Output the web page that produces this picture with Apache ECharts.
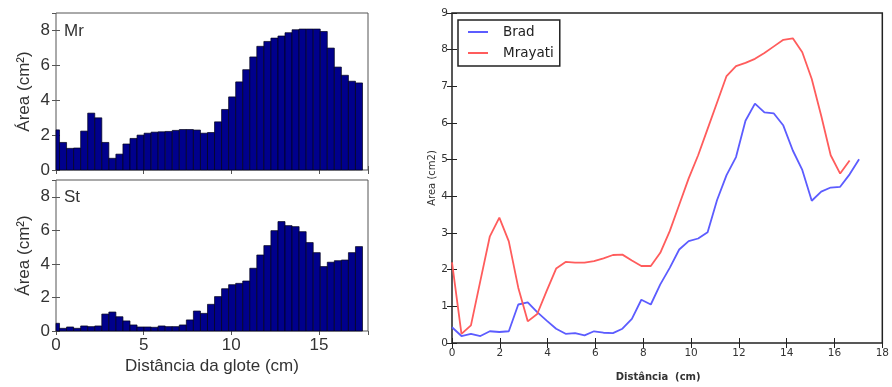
<!DOCTYPE html>
<html><head><meta charset="utf-8">
<script src="https://cdn.jsdelivr.net/npm/echarts@6/dist/echarts.min.js"></script>
<style>html,body{margin:0;padding:0;background:#fff}#c{width:892px;height:387px}</style>
</head><body><div id="c"></div>
<script>
// Section areas (cm^2) per tube section, left panels
const MR_AREA = [2.3,1.58,1.24,1.26,2.23,3.26,2.99,1.58,0.67,0.91,
  1.49,1.81,2.0,2.11,2.17,2.19,2.21,2.27,2.32,2.32,
  2.29,2.11,2.15,2.76,3.47,4.19,5.05,5.75,6.48,7.09,
  7.37,7.56,7.68,7.87,8.04,8.08,8.08,8.08,7.94,6.99,
  5.9,5.43,5.09,4.99];
const ST_AREA = [0.46,0.16,0.24,0.16,0.3,0.26,0.3,1.01,1.13,0.85,
  0.6,0.36,0.24,0.24,0.22,0.3,0.26,0.26,0.36,0.66,
  1.19,1.05,1.59,2.05,2.52,2.76,2.84,2.98,3.74,4.53,
  5.09,5.98,6.52,6.28,6.22,5.92,5.27,4.67,3.84,4.1,
  4.19,4.23,4.67,5.03];
// Right panel lines
const BRAD = [0.43,0.19,0.25,0.19,0.32,0.30,0.32,1.05,1.11,0.84,
  0.61,0.39,0.25,0.27,0.21,0.32,0.28,0.27,0.39,0.66,
  1.18,1.05,1.6,2.05,2.55,2.78,2.85,3.02,3.9,4.58,
  5.07,6.06,6.53,6.29,6.26,5.93,5.25,4.72,3.88,4.13,
  4.24,4.26,4.6,5.01];
const MRAYATI = [2.2,0.25,0.48,1.7,2.91,3.42,2.77,1.51,0.59,0.79,
  1.42,2.03,2.21,2.19,2.19,2.23,2.31,2.40,2.41,2.25,
  2.10,2.10,2.46,3.05,3.77,4.49,5.12,5.84,6.56,7.28,
  7.55,7.64,7.75,7.91,8.09,8.27,8.31,7.93,7.2,6.2,
  5.12,4.62,4.98];
const BAR_STEP = 0.402;  // section length (cm), bars
const LINE_STEP = 0.396; // section length (cm), lines
const SERIES_NAMES = ['Brad', 'Mrayati'];
const PANEL_LABELS = ['Mr', 'St'];

const toXY = (arr, step) => arr.map((v, i) => [i * step, v]);

const LF = 'Liberation Sans, Arial, sans-serif';
const RF = 'DejaVu Sans, sans-serif';
const leftTxt = '#333';
const frameL = '#555';

function barSeries(arr, ax) {
  return {
    type: 'custom', xAxisIndex: ax, yAxisIndex: ax,
    data: toXY(arr, BAR_STEP),
    renderItem: function (params, api) {
      const x = api.value(0), y = api.value(1);
      const p0 = api.coord([x - BAR_STEP / 2, y]);
      const p1 = api.coord([x + BAR_STEP / 2, 0]);
      const shape = echarts.graphic.clipRectByRect(
        {x: p0[0], y: p0[1], width: p1[0] - p0[0], height: p1[1] - p0[1]},
        {x: params.coordSys.x, y: params.coordSys.y, width: params.coordSys.width, height: params.coordSys.height});
      if (!shape) return;
      return {type: 'rect', shape: shape, style: {fill: '#00008c', stroke: '#000018', lineWidth: 0.7}};
    }
  };
}

function leftX(grid, pos, labels) {
  return {
    type: 'value', gridIndex: grid, position: pos, min: 0, max: 17.8, interval: 5,
    axisLine: {show: false}, splitLine: {show: false},
    axisTick: {show: true, inside: true, length: 4, lineStyle: {color: frameL}},
    axisLabel: {show: labels, showMaxLabel: false, margin: 6, fontSize: 17, fontFamily: LF, color: leftTxt},
    name: labels ? 'Distância da glote (cm)' : '', nameLocation: 'middle', nameGap: 27,
    nameTextStyle: {fontSize: 17, fontFamily: LF, color: leftTxt}
  };
}
function leftY(grid, pos, labels) {
  return {
    type: 'value', gridIndex: grid, position: pos, min: 0, max: 9, interval: 2,
    axisLine: {show: false}, splitLine: {show: false},
    axisTick: {show: true, inside: true, length: 4, lineStyle: {color: frameL}},
    axisLabel: {show: labels, showMaxLabel: false, margin: 6, fontSize: 17, fontFamily: LF, color: leftTxt},
    name: labels ? 'Área (cm²)' : '', nameLocation: 'middle', nameGap: 23,
    nameTextStyle: {fontSize: 17, fontFamily: LF, color: leftTxt}
  };
}
function rightX(pos, labels) {
  return {
    type: 'value', gridIndex: 2, position: pos, min: 0, max: 18, interval: 2,
    axisLine: {show: false}, splitLine: {show: false},
    axisTick: {show: true, inside: true, length: 5, lineStyle: {color: '#222'}},
    axisLabel: {show: labels, margin: 5, fontSize: 10.5, fontFamily: RF, color: '#333'},
    name: labels ? 'Distância  (cm)' : '', nameLocation: 'middle', nameGap: 29,
    nameTextStyle: {fontSize: 10, fontWeight: 'bold', fontFamily: RF, color: '#333', padding: [0, 18, 0, 0]}
  };
}
function rightY(pos, labels) {
  return {
    type: 'value', gridIndex: 2, position: pos, min: 0, max: 9, interval: 1,
    axisLine: {show: false}, splitLine: {show: false},
    axisTick: {show: true, inside: true, length: 5, lineStyle: {color: '#222'}},
    axisLabel: {show: labels, margin: 4, fontSize: 10.5, fontFamily: RF, color: '#333'},
    name: labels ? 'Area (cm2)' : '', nameLocation: 'middle', nameGap: 13,
    nameTextStyle: {fontSize: 10, fontFamily: RF, color: '#333'}
  };
}

const chart = echarts.init(document.getElementById('c'), null, {renderer: 'canvas'});
chart.setOption({
  animation: false,
  backgroundColor: '#fff',
  grid: [
    {left: 56, top: 13, width: 312, height: 157, show: true, borderColor: frameL, borderWidth: 1, backgroundColor: 'transparent'},
    {left: 56, top: 180, width: 312, height: 151, show: true, borderColor: frameL, borderWidth: 1, backgroundColor: 'transparent'},
    {left: 452, top: 13, width: 433, height: 333, show: true, borderColor: '#222', borderWidth: 1.5, backgroundColor: 'transparent'}
  ],
  xAxis: [leftX(0, 'bottom', false), leftX(0, 'top', false), leftX(1, 'bottom', true), leftX(1, 'top', false),
          rightX('bottom', true), rightX('top', false)],
  yAxis: [leftY(0, 'left', true), leftY(0, 'right', false), leftY(1, 'left', true), leftY(1, 'right', false),
          rightY('left', true), rightY('right', false)],
  legend: {
    data: SERIES_NAMES, left: 458, top: 20, orient: 'vertical', icon: 'rect',
    itemWidth: 20, itemHeight: 2, itemGap: 7, padding: [5, 6, 6, 10],
    borderColor: '#222', borderWidth: 1.5, backgroundColor: '#fff',
    textStyle: {fontSize: 13.5, fontFamily: RF, color: '#222', padding: [0, 0, 0, 10]}
  },
  graphic: [
    {type: 'text', left: 64, top: 23, style: {text: PANEL_LABELS[0], font: '17px ' + LF, fill: leftTxt}},
    {type: 'text', left: 64, top: 189, style: {text: PANEL_LABELS[1], font: '17px ' + LF, fill: leftTxt}}
  ],
  series: [
    barSeries(MR_AREA, 0),
    barSeries(ST_AREA, 2),
    {name: SERIES_NAMES[0], type: 'line', xAxisIndex: 4, yAxisIndex: 4, data: toXY(BRAD, LINE_STEP),
     showSymbol: false, symbol: 'none', color: '#5c5cff', lineStyle: {width: 1.8, color: '#5c5cff'}},
    {name: SERIES_NAMES[1], type: 'line', xAxisIndex: 4, yAxisIndex: 4, data: toXY(MRAYATI, LINE_STEP),
     showSymbol: false, symbol: 'none', color: '#ff5c5c', lineStyle: {width: 1.8, color: '#ff5c5c'}}
  ]
});
</script></body></html>
